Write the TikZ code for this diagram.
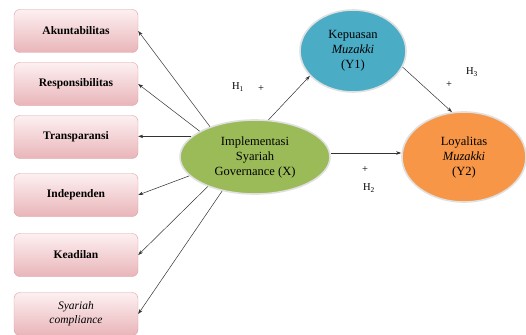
\documentclass[tikz,border=0pt]{standalone}
\usepackage{fontspec}
\setmainfont{Liberation Serif}
\usetikzlibrary{arrows.meta,shapes.geometric}
\definecolor{boxtop}{HTML}{FDF0F1}
\definecolor{boxbot}{HTML}{E9B5B9}
\definecolor{boxline}{HTML}{DCA0A5}
\definecolor{varX}{HTML}{9BBB59}
\definecolor{varY}{HTML}{4BACC6}
\definecolor{varZ}{HTML}{F79646}
\tikzset{
  dimbox/.style={draw=boxline, rounded corners=6pt, top color=boxtop,
    bottom color=boxbot, minimum width=124pt, minimum height=43pt,
    align=center, font=\bfseries\fontsize{11.5}{14}\selectfont},
  varnode/.style={ellipse, draw=black!12, line width=1.6pt, align=center,
    inner sep=0pt, font=\fontsize{12.5}{15}\selectfont},
  link/.style={-{Stealth[length=5pt,width=3.5pt]}, black!80, line width=0.5pt},
  hlabel/.style={font=\fontsize{10.5}{12}\selectfont}
}
\begin{document}
\begin{tikzpicture}[x=1pt,y=-1pt]
  \useasboundingbox (0,0) rectangle (526,334);
  % dimensi
  \node[dimbox] (akun) at (76,31)  {Akuntabilitas};
  \node[dimbox] (resp) at (76,84)  {Responsibilitas};
  \node[dimbox] (tran) at (76,137) {Transparansi};
  \node[dimbox] (inde) at (76,195) {Independen};
  \node[dimbox] (keadil) at (76,255) {Keadilan};
  \node[dimbox, font=\itshape\fontsize{11.5}{14}\selectfont] (comp) at (76,314)
    {Syariah\\compliance};
  % variabel
  \node[varnode, fill=varX, minimum width=150pt, minimum height=74pt] (isg) at (255,157)
    {Implementasi\\Syariah\\Governance (X)};
  \node[varnode, fill=varY, minimum width=106pt, minimum height=82pt] (kep) at (353,51)
    {Kepuasan\\\textit{Muzakki}\\(Y1)};
  \node[varnode, fill=varZ, minimum width=124pt, minimum height=90pt] (loy) at (464,157)
    {Loyalitas\\\textit{Muzakki}\\(Y2)};
  % panah
  \draw[link] (isg.146) -- (akun.east);
  \draw[link] (isg.155) -- (resp.east);
  \draw[link] (isg.162) -- (isg.162 -| tran.east);
  \draw[link] (isg.196) -- (inde.east);
  \draw[link] (isg.212) -- (keadil.east);
  \draw[link] (isg.226) -- (comp.east);
  \draw[link] (isg.70) -- (kep.210);
  \draw[link] (isg.east |- 0,153) -- (loy.west |- 0,153);
  \draw[link] (kep.-18) -- (loy.105);
  % hipotesis
  \node[hlabel] (h1) at (238,87) {H\textsubscript{1}};
  \node[hlabel] (p1) at (261,89) {+};
  \node[hlabel] (h3) at (472,72) {H\textsubscript{3}};
  \node[hlabel] (p3) at (449,85) {+};
  \node[hlabel] (p2) at (365,170) {+};
  \node[hlabel] (h2) at (369,188) {H\textsubscript{2}};
\end{tikzpicture}
\end{document}
